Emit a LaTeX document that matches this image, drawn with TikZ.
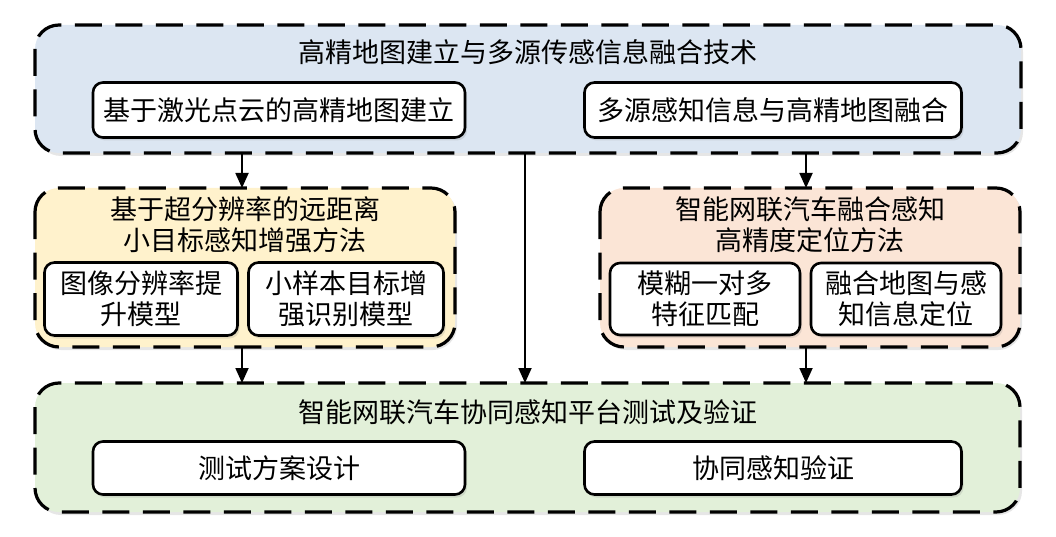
\documentclass[tikz,border=0pt]{standalone}
\usepackage{fontspec}
\setmainfont{Noto Sans CJK SC}
\usetikzlibrary{arrows.meta,shadows}
\definecolor{topblue}{RGB}{220,230,242}
\definecolor{ylwfill}{RGB}{255,242,204}
\definecolor{orgfill}{RGB}{251,229,214}
\definecolor{grnfill}{RGB}{226,240,217}

\begin{document}
\begin{tikzpicture}
      [x = 1pt, y = -1pt,
      font = \fontsize{27}{31}\selectfont,
      arrow/.style = {-{Triangle[width = 13pt, length = 15pt]}, line width = 1.8pt},
      group/.style = {
         draw,
         rounded corners = 24pt,
         line width = 3.2pt,
         dash pattern = on 27pt off 13.5pt,
         drop shadow = {opacity = 0.2, shadow xshift = 2pt, shadow yshift = -3pt}
      },
      item/.style = {
         draw,
         fill = white,
         rounded corners = 10pt,
         line width = 2.6pt,
         align = center,
         inner sep = 0pt,
         drop shadow = {opacity = 0.2, shadow xshift = 2pt, shadow yshift = -3pt}
      }]
      \useasboundingbox (0, 0) rectangle (1056, 537);

      % top group
      \draw[group, fill = topblue] (35, 25) rectangle (1021, 153);
      \coordinate (topS) at (528, 153);
      \node (topT) at (528, 52) {高精地图建立与多源传感信息融合技术};
      \node[item, minimum width = 372pt, minimum height = 55pt] (lidar) at (279, 110) {基于激光点云的高精地图建立};
      \node[item, minimum width = 377pt, minimum height = 55pt] (fuse) at (773, 110) {多源感知信息与高精地图融合};

      % left group
      \draw[group, fill = ylwfill] (35, 188) rectangle (455, 347);
      \coordinate (ylwN) at (242, 188);
      \coordinate (ylwS) at (242, 347);
      \node[align = center] (ylwT) at (245, 225) {基于超分辨率的远距离\\小目标感知增强方法};
      \node[item, minimum width = 193pt, minimum height = 73pt] (sr) at (141, 299) {图像分辨率提\\升模型};
      \node[item, minimum width = 195pt, minimum height = 73pt] (fs) at (346, 299) {小样本目标增\\强识别模型};

      % right group
      \draw[group, fill = orgfill] (600, 188) rectangle (1020, 347);
      \coordinate (orgN) at (806, 188);
      \coordinate (orgS) at (806, 347);
      \node[align = center] (orgT) at (810, 225) {智能网联汽车融合感知\\高精度定位方法};
      \node[item, minimum width = 190pt, minimum height = 72pt] (fuzzy) at (705, 299) {模糊一对多\\特征匹配};
      \node[item, minimum width = 190pt, minimum height = 72pt] (loc) at (906, 299) {融合地图与感\\知信息定位};

      % bottom group
      \draw[group, fill = grnfill] (35, 383) rectangle (1020, 512);
      \coordinate (botN) at (528, 383);
      \node (botT) at (528, 412) {智能网联汽车协同感知平台测试及验证};
      \node[item, minimum width = 372pt, minimum height = 53pt] (plan) at (279, 468) {测试方案设计};
      \node[item, minimum width = 377pt, minimum height = 53pt] (verify) at (773, 468) {协同感知验证};

      % connectors
      \draw[arrow] (topS -| ylwN) -- (ylwN);
      \draw[arrow] (topS -| orgN) -- (orgN);
      \draw[arrow] (topS -| 525, 0) -- (botN -| 525, 0);
      \draw[arrow] (ylwS) -- (botN -| ylwS);
      \draw[arrow] (orgS) -- (botN -| orgS);
\end{tikzpicture}
\end{document}
